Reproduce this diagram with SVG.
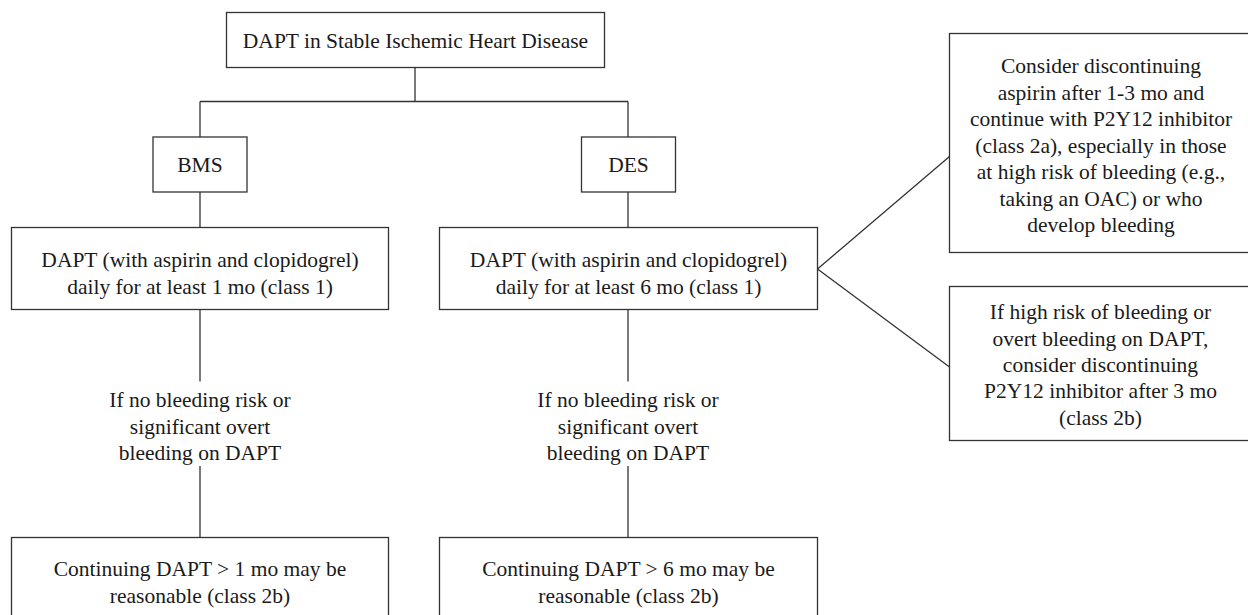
<svg xmlns="http://www.w3.org/2000/svg" width="1248" height="615" viewBox="0 0 1248 615">
  <style>
    .box { fill: #ffffff; stroke: #333333; stroke-width: 1.3; }
    .wire { fill: none; stroke: #333333; stroke-width: 1.3; }
    text { font-family: 'Liberation Serif', 'DejaVu Serif', serif; font-size: 21.5px; fill: #1a1a1a; text-anchor: middle; }
  </style>
  <rect width="1248" height="615" fill="#ffffff"/>

  <!-- connectors -->
  <g id="connectors">
    <path class="wire" d="M415 67.5 V101.5 M200 101.5 H628 M200 101.5 V137 M628 101.5 V137"/>
    <path class="wire" d="M200 192 V227.5 M628 192 V227.5"/>
    <path class="wire" d="M200 309.5 V381.5 M200 466 V537.5"/>
    <path class="wire" d="M628 309.5 V381.5 M628 466 V537.5"/>
    <path class="wire" d="M817.5 269 L949.5 156.5 M817.5 269 L949.5 367"/>
  </g>

  <g id="root">
    <rect class="box" x="226.5" y="12.5" width="378" height="55"/>
    <text x="415.5" y="48">DAPT in Stable Ischemic Heart Disease</text>
  </g>

  <g id="bms">
    <rect class="box" x="153" y="137" width="94" height="55"/>
    <text x="200" y="172">BMS</text>
  </g>

  <g id="des">
    <rect class="box" x="581.5" y="137" width="94" height="55"/>
    <text x="628.5" y="172">DES</text>
  </g>

  <g id="bms-dapt">
    <rect class="box" x="11.5" y="227.5" width="377" height="82"/>
    <text x="200" y="267">DAPT (with aspirin and clopidogrel)</text>
    <text x="200" y="293.5">daily for at least 1 mo (class 1)</text>
  </g>

  <g id="des-dapt">
    <rect class="box" x="439.5" y="227.5" width="378" height="82"/>
    <text x="628.5" y="267">DAPT (with aspirin and clopidogrel)</text>
    <text x="628.5" y="293.5">daily for at least 6 mo (class 1)</text>
  </g>

  <g id="bms-condition">
    <text x="200" y="407">If no bleeding risk or</text>
    <text x="200" y="433.5">significant overt</text>
    <text x="200" y="460">bleeding on DAPT</text>
  </g>

  <g id="des-condition">
    <text x="628" y="407">If no bleeding risk or</text>
    <text x="628" y="433.5">significant overt</text>
    <text x="628" y="460">bleeding on DAPT</text>
  </g>

  <g id="bms-continue">
    <rect class="box" x="11.5" y="537.5" width="377" height="90"/>
    <text x="200" y="576">Continuing DAPT &gt; 1 mo may be</text>
    <text x="200" y="602.5">reasonable (class 2b)</text>
  </g>

  <g id="des-continue">
    <rect class="box" x="439.5" y="537.5" width="378" height="90"/>
    <text x="628.5" y="576">Continuing DAPT &gt; 6 mo may be</text>
    <text x="628.5" y="602.5">reasonable (class 2b)</text>
  </g>

  <g id="aspirin-stop">
    <rect class="box" x="949.5" y="33.5" width="305" height="219"/>
    <text x="1101" y="73">Consider discontinuing</text>
    <text x="1101" y="99.5">aspirin after 1-3 mo and</text>
    <text x="1101" y="126">continue with P2Y12 inhibitor</text>
    <text x="1101" y="152.5">(class 2a), especially in those</text>
    <text x="1101" y="179">at high risk of bleeding (e.g.,</text>
    <text x="1101" y="205.5">taking an OAC) or who</text>
    <text x="1101" y="232">develop bleeding</text>
  </g>

  <g id="p2y12-stop">
    <rect class="box" x="949.5" y="286.5" width="305" height="154"/>
    <text x="1100.5" y="319">If high risk of bleeding or</text>
    <text x="1100.5" y="345.5">overt bleeding on DAPT,</text>
    <text x="1100.5" y="372">consider discontinuing</text>
    <text x="1100.5" y="398">P2Y12 inhibitor after 3 mo</text>
    <text x="1100.5" y="424.5">(class 2b)</text>
  </g>
</svg>
